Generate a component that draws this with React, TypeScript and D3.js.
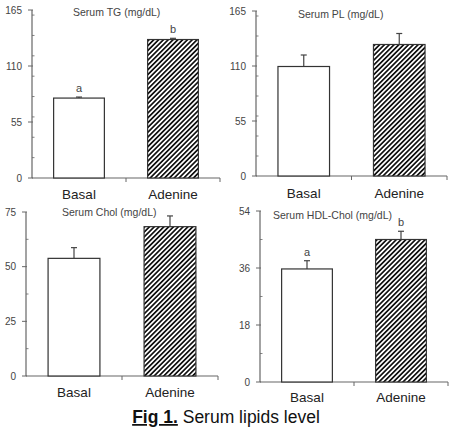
import React from "react";
import * as d3 from "d3";

const categories = ["Basal", "Adenine"];
const titles = ["Serum TG (mg/dL)", "Serum PL (mg/dL)", "Serum Chol (mg/dL)", "Serum HDL-Chol (mg/dL)"];

const tgValues = [78.5, 136];
const tgErrors = [1, 1.2];
const tgTicks = [0, 55, 110, 165];
const tgMinor = [20, 40, 60, 80, 100, 120, 140, 160];
const tgLetters = ["a", "b"];

const plValues = [109.5, 131.5];
const plErrors = [11.5, 11];
const plTicks = [0, 55, 110, 165];
const plMinor = [20, 40, 60, 80, 100, 120, 140, 160];
const plLetters = ["", ""];

const cholValues = [53.8, 68.3];
const cholErrors = [4.9, 4.9];
const cholTicks = [0, 25, 50, 75];
const cholMinor = [12.5, 37.5, 62.5];
const cholLetters = ["", ""];

const hdlValues = [35.7, 45];
const hdlErrors = [2.6, 2.6];
const hdlTicks = [0, 18, 36, 54];
const hdlMinor = [9, 27, 45];
const hdlLetters = ["a", "b"];

const FONT = "Arial, 'Liberation Sans', sans-serif";

type PanelProps = {
  title: string;
  values: number[];
  errors: number[];
  ticks: number[];
  minor: number[];
  letters: string[];
  axisX: number;
  xEnd: number;
  y0: number;
  yTop: number;
  titleX: number;
  titleY: number;
  catY: number;
};

function Panel(p: PanelProps) {
  const maxV = p.ticks[p.ticks.length - 1];
  const y = d3.scaleLinear().domain([0, maxV]).range([p.y0, p.yTop]);
  const x = d3.scalePoint<string>().domain(categories).range([p.axisX, p.xEnd]).padding(0.5);
  const step = x.step();
  const bw = step * 0.54;
  const axisColor = "#666";
  return (
    <g>
      <text x={p.titleX} y={p.titleY} fontSize={10.5} fill="#444" fontFamily={FONT}>
        {p.title}
      </text>
      <line x1={p.axisX} x2={p.axisX} y1={p.yTop} y2={p.y0} stroke={axisColor} strokeWidth={1.2} />
      {p.ticks.map((t) => (
        <g key={"t" + t}>
          <line x1={p.axisX - 4} x2={p.axisX + 1} y1={y(t)} y2={y(t)} stroke={axisColor} strokeWidth={1} />
          <text x={p.axisX - 10} y={y(t) + 3.5} fontSize={10} textAnchor="end" fill="#444" fontFamily={FONT}>
            {t}
          </text>
        </g>
      ))}
      {p.minor.map((t) => (
        <line key={"m" + t} x1={p.axisX} x2={p.axisX + 2.5} y1={y(t)} y2={y(t)} stroke={axisColor} strokeWidth={0.8} />
      ))}
      <line x1={p.axisX} x2={p.xEnd} y1={p.y0} y2={p.y0} stroke={axisColor} strokeWidth={1.2} />
      {[p.axisX + step, p.xEnd].map((tx, i) => (
        <line key={"xt" + i} x1={tx} x2={tx} y1={p.y0} y2={p.y0 + 4} stroke={axisColor} strokeWidth={1} />
      ))}
      {categories.map((c, i) => {
        const cx = x(c) as number;
        const top = y(p.values[i]);
        const errTop = y(p.values[i] + p.errors[i]);
        return (
          <g key={c}>
            <line x1={cx} x2={cx} y1={top} y2={errTop} stroke="#444" strokeWidth={1.2} />
            <line x1={cx - 3} x2={cx + 3} y1={errTop} y2={errTop} stroke="#444" strokeWidth={1.2} />
            <rect
              x={cx - bw / 2}
              y={top}
              width={bw}
              height={p.y0 - top}
              fill={i === 0 ? "#fff" : "url(#hatch)"}
              stroke="#333"
              strokeWidth={1.2}
            />
            {p.letters[i] && (
              <text x={cx} y={errTop - 5} fontSize={11} textAnchor="middle" fill="#444" fontFamily={FONT}>
                {p.letters[i]}
              </text>
            )}
            <text x={cx} y={p.catY} fontSize={13.5} textAnchor="middle" fill="#222" fontFamily={FONT}>
              {c}
            </text>
          </g>
        );
      })}
    </g>
  );
}

export default function App() {
  return (
    <div style={{ position: "absolute", left: 0, top: 0 }}>
      <svg width={460} height={428} style={{ display: "block", background: "#fff" }}>
        <defs>
          <pattern id="hatch" patternUnits="userSpaceOnUse" width={3.4} height={3.4} patternTransform="rotate(45)">
            <rect width={3.4} height={3.4} fill="#fff" />
            <rect x={0} y={0} width={1.7} height={3.4} fill="#111" />
          </pattern>
        </defs>
        <rect width={460} height={428} fill="#fff" />
        <Panel
          title={titles[0]}
          values={tgValues}
          errors={tgErrors}
          ticks={tgTicks}
          minor={tgMinor}
          letters={tgLetters}
          axisX={32}
          xEnd={220}
          y0={178}
          yTop={10}
          titleX={73}
          titleY={16}
          catY={199}
        />
        <Panel
          title={titles[1]}
          values={plValues}
          errors={plErrors}
          ticks={plTicks}
          minor={plMinor}
          letters={plLetters}
          axisX={256}
          xEnd={447}
          y0={176}
          yTop={11}
          titleX={298}
          titleY={18}
          catY={198}
        />
        <Panel
          title={titles[2]}
          values={cholValues}
          errors={cholErrors}
          ticks={cholTicks}
          minor={cholMinor}
          letters={cholLetters}
          axisX={26}
          xEnd={218}
          y0={376}
          yTop={212}
          titleX={62}
          titleY={216}
          catY={397}
        />
        <Panel
          title={titles[3]}
          values={hdlValues}
          errors={hdlErrors}
          ticks={hdlTicks}
          minor={hdlMinor}
          letters={hdlLetters}
          axisX={260}
          xEnd={448}
          y0={382}
          yTop={211}
          titleX={273}
          titleY={219}
          catY={402}
        />
        <text x={226} y={423} fontSize={17.5} textAnchor="middle" fill="#111" fontFamily={FONT}>
          <tspan fontWeight="bold" textDecoration="underline">Fig 1.</tspan>
          <tspan> Serum lipids level</tspan>
        </text>
      </svg>
    </div>
  );
}
